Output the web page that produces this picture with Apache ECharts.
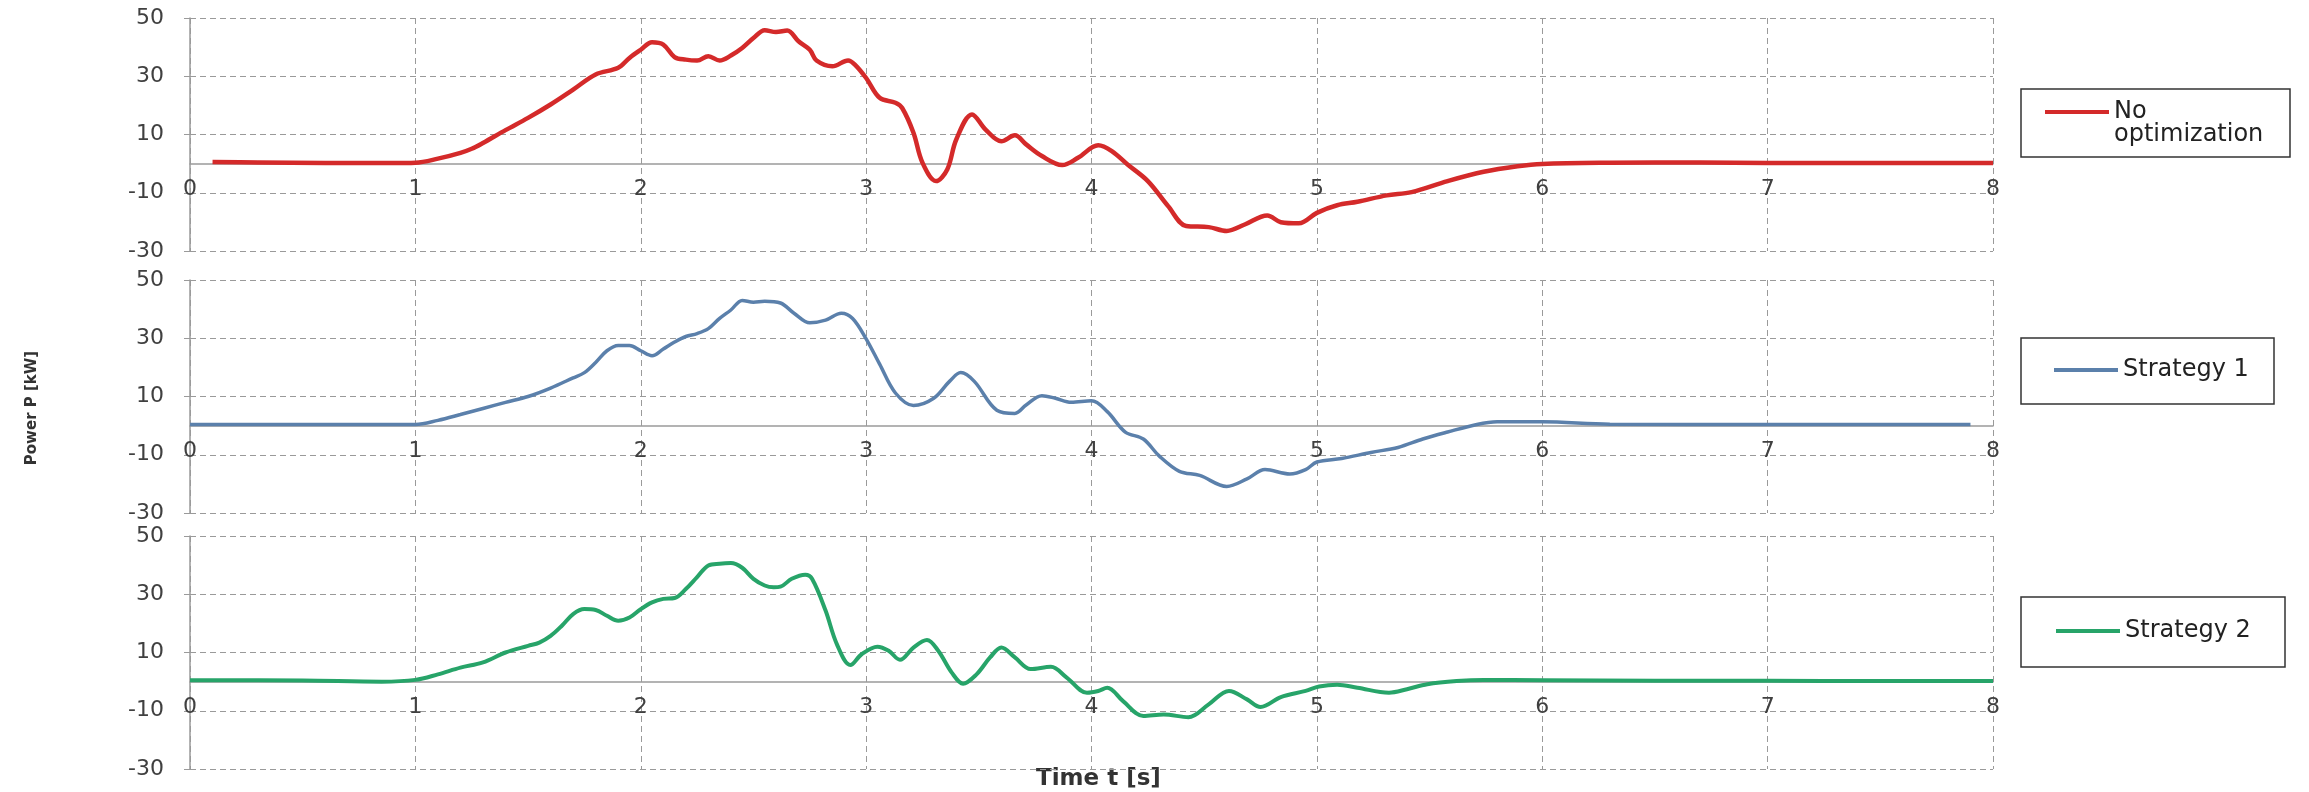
<!DOCTYPE html>
<html>
<head>
<meta charset="utf-8">
<script src="https://cdn.jsdelivr.net/npm/echarts@6/dist/echarts.min.js"></script>
<style>
  html, body { margin: 0; padding: 0; background: #fff; }
  #main { width: 2309px; height: 792px; }
</style>
</head>
<body>
<div id="main"></div>
<script>
// x ticks 0..8 s, y ticks -30..50 kW
var timeTicks = [0, 1, 2, 3, 4, 5, 6, 7, 8];
var powerTicks = [-30, -10, 10, 30, 50];

// [time s, power kW]
var noOptData = [
  [0.1, 0.6], [0.3, 0.4], [0.6, 0.2], [0.9, 0.2], [1.0, 0.3], [1.1, 1.7], [1.2, 3.7], [1.25, 5.1],
  [1.3, 7.1], [1.4, 11.5], [1.5, 15.7], [1.6, 20.3], [1.7, 25.4], [1.8, 30.6], [1.9, 32.9], [1.95, 36.3],
  [2.0, 39.1], [2.05, 41.7], [2.1, 40.9], [2.15, 36.6], [2.2, 35.7], [2.25, 35.4], [2.3, 36.9], [2.35, 35.4],
  [2.4, 37.1], [2.45, 39.7], [2.5, 43.1], [2.55, 45.8], [2.6, 45.2], [2.65, 45.7], [2.7, 42], [2.75, 39.1],
  [2.78, 35.4], [2.85, 33.4], [2.92, 35.4], [2.95, 34], [3.0, 29.4], [3.06, 22.6], [3.13, 20.9], [3.16, 19.1],
  [3.21, 10.6], [3.25, 0.3], [3.31, -6.0], [3.36, -2], [3.4, 8.3], [3.47, 16.9], [3.53, 11.7], [3.6, 7.7],
  [3.66, 9.7], [3.71, 6.6], [3.78, 2.6], [3.87, -0.5], [3.94, 2], [4.03, 6.3], [4.09, 4.3], [4.16, -0.3],
  [4.25, -6], [4.34, -14.6], [4.42, -21.4], [4.52, -21.8], [4.6, -23.1], [4.68, -20.9], [4.78, -17.8], [4.84, -20.1],
  [4.92, -20.5], [5.0, -16.9], [5.09, -14.3], [5.18, -13.1], [5.31, -10.9], [5.42, -9.8], [5.58, -6], [5.74, -2.8],
  [5.89, -0.9], [6.0, -0.1], [6.3, 0.3], [6.7, 0.4], [7.0, 0.2], [7.5, 0.2], [8.0, 0.2]
];

var strategy1Data = [
  [0, 0.4], [0.5, 0.4], [1.0, 0.4], [1.1, 1.8], [1.2, 3.8], [1.3, 5.9], [1.4, 8.0], [1.5, 10],
  [1.6, 12.9], [1.7, 16.4], [1.75, 18.2], [1.8, 21.7], [1.85, 25.7], [1.9, 27.5], [1.95, 27.5], [2.0, 25.7],
  [2.05, 24], [2.1, 26.3], [2.15, 28.7], [2.2, 30.6], [2.25, 31.6], [2.3, 33.3], [2.35, 36.8], [2.4, 39.7],
  [2.45, 43], [2.5, 42.4], [2.55, 42.7], [2.62, 42.1], [2.68, 38.6], [2.75, 35.3], [2.82, 36.2], [2.89, 38.6],
  [2.94, 36.8], [3.0, 29.8], [3.06, 21.1], [3.13, 11.2], [3.21, 6.9], [3.3, 9.4], [3.37, 15.2], [3.42, 18.2],
  [3.48, 15.2], [3.58, 5.3], [3.66, 4.2], [3.71, 7.1], [3.78, 10.3], [3.84, 9.4], [3.91, 8], [4.0, 8.5],
  [4.07, 4.8], [4.15, -2.2], [4.23, -4.6], [4.3, -10.4], [4.39, -15.7], [4.48, -17.1], [4.6, -20.9], [4.69, -18.3],
  [4.77, -15.1], [4.88, -16.6], [4.95, -15.1], [5.0, -12.5], [5.11, -11.3], [5.24, -9.2], [5.36, -7.5], [5.47, -4.6],
  [5.58, -2.2], [5.71, 0.4], [5.8, 1.3], [6.0, 1.3], [6.3, 0.5], [7.0, 0.4], [7.5, 0.4], [7.9, 0.4]
];

var strategy2Data = [
  [0, 0.5], [0.5, 0.4], [0.85, 0], [1.0, 0.6], [1.1, 2.5], [1.2, 4.8], [1.3, 6.6], [1.4, 10],
  [1.5, 12.3], [1.55, 13.4], [1.6, 15.7], [1.65, 19.2], [1.7, 23.2], [1.75, 24.9], [1.8, 24.6], [1.85, 22.6],
  [1.9, 20.9], [1.95, 22], [2.0, 24.9], [2.05, 27.2], [2.1, 28.4], [2.15, 28.7], [2.2, 31.8], [2.25, 35.9],
  [2.3, 39.9], [2.35, 40.5], [2.4, 40.7], [2.45, 39.1], [2.5, 35.3], [2.55, 33], [2.59, 32.4], [2.62, 32.6],
  [2.67, 35.3], [2.73, 36.7], [2.76, 35.3], [2.82, 24.4], [2.87, 12.9], [2.93, 5.7], [2.98, 9.4], [3.05, 12],
  [3.1, 10.6], [3.15, 7.5], [3.21, 11.7], [3.27, 14.3], [3.32, 10.6], [3.38, 3.1], [3.43, -0.7], [3.49, 2.5],
  [3.55, 8.3], [3.6, 11.7], [3.66, 8.3], [3.73, 4.3], [3.82, 5.1], [3.89, 1.4], [3.98, -3.8], [4.03, -3.2],
  [4.07, -2.1], [4.14, -6.7], [4.23, -11.8], [4.32, -11.3], [4.43, -12.2], [4.52, -7.8], [4.61, -3.2], [4.69, -6.1],
  [4.75, -8.7], [4.84, -5.3], [4.95, -3.2], [5.01, -1.7], [5.09, -1.1], [5.18, -2.1], [5.32, -3.8], [5.4, -2.6],
  [5.49, -0.9], [5.62, 0.2], [5.74, 0.6], [6.0, 0.5], [6.5, 0.3], [7.0, 0.3], [7.5, 0.2], [8.0, 0.2]
];

var seriesNames = ['No optimization', 'Strategy 1', 'Strategy 2'];
var seriesData = [noOptData, strategy1Data, strategy2Data];
var colors = ['#d42a2a', '#5b80ab', '#27a469'];
var lineWidths = [4.5, 3.5, 4];

var gridTops = [18, 280, 536];
var legendPos = [
  { left: 2045, top: 77, box: [2021, 89, 269, 68] },
  { left: 2054, top: 358, box: [2021, 338, 253, 66] },
  { left: 2056, top: 619, box: [2021, 597, 264, 70] }
];

var labelColor = '#404040';
var gridColor = '#9a9a9a';

var myChart = echarts.init(document.getElementById('main'));

var grids = [], xAxes = [], yAxes = [], series = [], legends = [], graphics = [];

for (var i = 0; i < 3; i++) {
  grids.push({ left: 190, top: gridTops[i], width: 1803, height: 233 });

  xAxes.push({
    type: 'value',
    gridIndex: i,
    min: timeTicks[0],
    max: timeTicks[timeTicks.length - 1],
    interval: 1,
    axisLine: { show: true, onZero: true, lineStyle: { color: gridColor, width: 1.5 } },
    axisTick: { show: false },
    // labels sit just under the zero line, on the -10 grid line
    axisLabel: { color: labelColor, fontSize: 22, fontFamily: 'DejaVu Sans', margin: -73 },
    splitLine: { show: true, lineStyle: { color: gridColor, type: [6, 4], width: 1 } }
  });

  yAxes.push({
    type: 'value',
    gridIndex: i,
    min: powerTicks[0],
    max: powerTicks[powerTicks.length - 1],
    interval: 20,
    axisLine: { show: true, onZero: false, lineStyle: { color: gridColor, width: 1.5 } },
    axisTick: { show: true, length: 6, lineStyle: { color: gridColor } },
    axisLabel: { color: labelColor, fontSize: 22, fontFamily: 'DejaVu Sans', margin: 26 },
    splitLine: { show: true, lineStyle: { color: gridColor, type: [6, 4], width: 1 } }
  });

  series.push({
    name: seriesNames[i],
    type: 'line',
    xAxisIndex: i,
    yAxisIndex: i,
    data: seriesData[i],
    showSymbol: false,
    symbol: 'none',
    smooth: 0.35,
    color: colors[i],
    lineStyle: { color: colors[i], width: lineWidths[i] }
  });

  legends.push({
    data: [seriesNames[i]],
    left: legendPos[i].left,
    top: legendPos[i].top,
    padding: 0,
    icon: 'rect',
    itemWidth: 64,
    itemHeight: 4,
    itemGap: 0,
    formatter: i === 0 ? function () { return '\nNo\noptimization'; } : '{name}',
    textStyle: { color: '#222', fontSize: 24, fontFamily: 'DejaVu Sans', lineHeight: 23 }
  });

  graphics.push({
    type: 'rect',
    shape: { x: legendPos[i].box[0], y: legendPos[i].box[1], width: legendPos[i].box[2], height: legendPos[i].box[3] },
    style: { fill: 'none', stroke: '#333', lineWidth: 1.5 },
    silent: true
  });
}

graphics.push({
  type: 'text',
  left: 1036,
  top: 768,
  style: { text: 'Time t [s]', fill: '#333', font: 'bold 23px "DejaVu Sans"' }
});
graphics.push({
  type: 'text',
  x: 32,
  y: 408,
  rotation: Math.PI / 2,
  style: { text: 'Power P [kW]', fill: '#333', font: 'bold 15px "DejaVu Sans"', align: 'center', verticalAlign: 'middle' }
});

var option = {
  backgroundColor: '#ffffff',
  animation: false,
  grid: grids,
  xAxis: xAxes,
  yAxis: yAxes,
  legend: legends,
  series: series,
  graphic: graphics
};

myChart.setOption(option);
</script>
</body>
</html>
